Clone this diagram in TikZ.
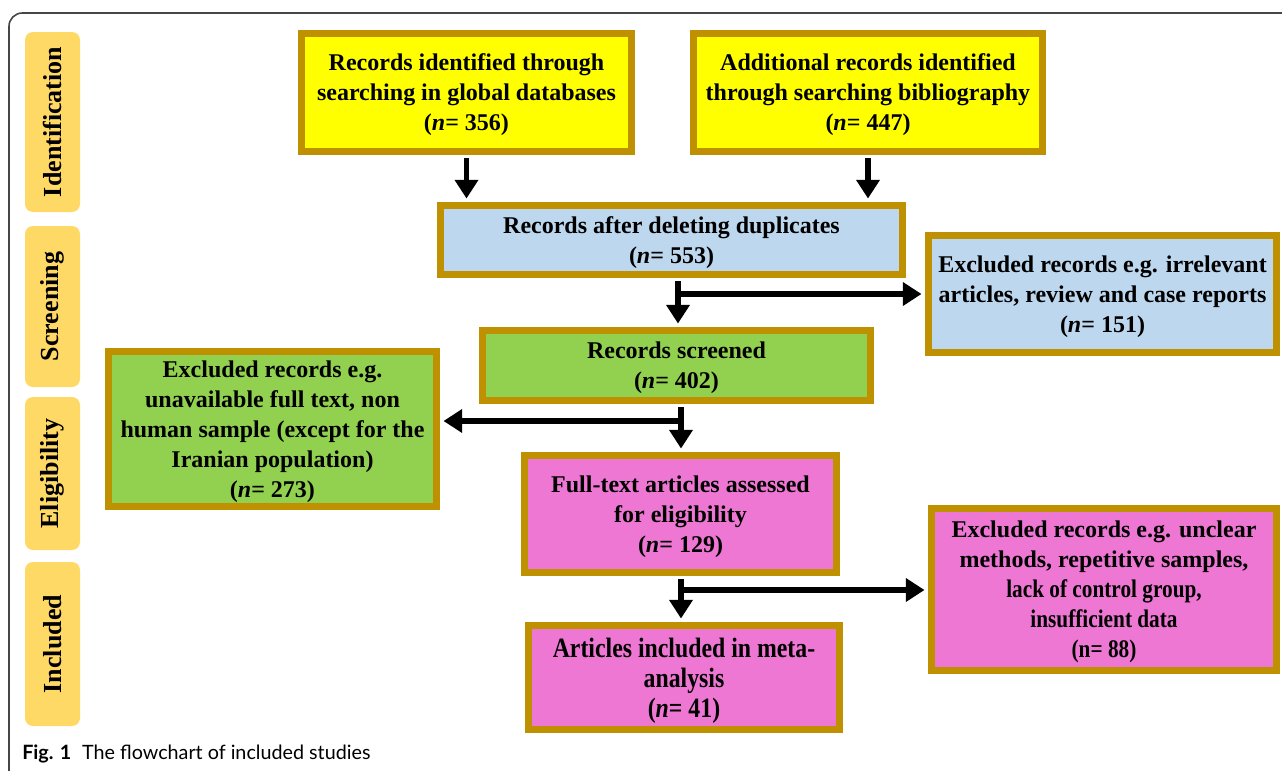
\documentclass[tikz,border=0pt]{standalone}
\usepackage{fontspec}
\setmainfont{Liberation Serif}
\newfontfamily\narrowfont[FakeStretch=0.84]{Liberation Serif}
\newfontfamily\metafont[FakeStretch=0.85]{Liberation Serif}
\newfontfamily\capfont{Lato}
\usepackage{tikz}
\usetikzlibrary{arrows.meta,calc}

\definecolor{boxborder}{RGB}{191,144,0}
\definecolor{yelfill}{RGB}{255,255,0}
\definecolor{bluefill}{RGB}{189,215,238}
\definecolor{greenfill}{RGB}{146,208,80}
\definecolor{pinkfill}{RGB}{238,119,212}
\definecolor{tabgold}{RGB}{255,217,102}
\definecolor{framegray}{RGB}{70,70,70}

\tikzset{
    flowbox/.style={draw=boxborder, line width=5.25pt, align=center, inner sep=2pt,
        font=\bfseries\fontsize{18}{22.5}\selectfont, text depth=-6pt},
    flowarrow/.style={line width=3.8pt, -{Triangle[length=14pt,width=17pt]},
        shorten <=2.6pt, shorten >=2.6pt},
    stagetab/.style={fill=tabgold, rounded corners=6pt, rotate=90, inner sep=0pt,
        minimum height=55*0.75pt, font=\bfseries\fontsize{19.5}{22}\selectfont}
}
\newcommand{\narrowline}[1]{{\narrowfont\bfseries\fontsize{19}{22.5}\selectfont #1}}

\begin{document}
\begin{tikzpicture}[x=0.75pt,y=-0.75pt]
    \useasboundingbox (0,0) rectangle (1282,771);

    % frame
    \draw[framegray, line width=1.2pt, rounded corners=10pt] (9,771) -- (9,13) -- (1282,13);

    % stage tabs
    \node[stagetab, minimum width=180*0.75pt] (tabid) at (52.5,122) {Identification};
    \node[stagetab, minimum width=161*0.75pt] (tabscr) at (52.5,306.5) {Screening};
    \node[stagetab, minimum width=153*0.75pt] (tabeli) at (52.5,473.5) {Eligibility};
    \node[stagetab, minimum width=164*0.75pt] (tabinc) at (52.5,644) {Included};

    % boxes
    \node[flowbox, fill=yelfill, minimum width=330*0.75pt, minimum height=118*0.75pt] (dbrec) at (466.5,92.5)
        {Records identified through\\searching in global databases\\(\textit{n}= 356)};
    \node[flowbox, fill=yelfill, minimum width=349*0.75pt, minimum height=118*0.75pt] (biblio) at (868,92.5)
        {Additional records identified\\through searching bibliography\\(\textit{n}= 447)};
    \node[flowbox, fill=bluefill, minimum width=462*0.75pt, minimum height=69*0.75pt] (dedup) at (671.5,240)
        {Records after deleting duplicates\\(\textit{n}= 553)};
    \node[flowbox, fill=bluefill, minimum width=348*0.75pt, minimum height=117*0.75pt] (exclscr) at (1102.5,294)
        {Excluded records e.g. irrelevant\\articles, review and case reports\\(\textit{n}= 151)};
    \node[flowbox, fill=greenfill, minimum width=388*0.75pt, minimum height=70*0.75pt] (screened) at (676.5,365.5)
        {Records screened\\(\textit{n}= 402)};
    \node[flowbox, fill=greenfill, minimum width=328*0.75pt, minimum height=155*0.75pt] (exclelig) at (272.5,429)
        {Excluded records e.g.\\unavailable full text, non\\human sample (except for the\\Iranian population)\\(\textit{n}= 273)};
    \node[flowbox, fill=pinkfill, minimum width=312*0.75pt, minimum height=117*0.75pt] (fulltext) at (680.5,514)
        {Full-text articles assessed\\for eligibility\\(\textit{n}= 129)};
    \node[flowbox, fill=pinkfill, minimum width=345*0.75pt, minimum height=162*0.75pt] (exclinc) at (1104,589.5)
        {Excluded records e.g. unclear\\methods, repetitive samples,\\\narrowline{lack of control group,}\\\narrowline{insufficient data}\\\narrowline{(n= 88)}};
    \node[flowbox, fill=pinkfill, minimum width=311*0.75pt, minimum height=104*0.75pt, text depth=-4pt,
        font=\metafont\bfseries\fontsize{21}{22.5}\selectfont] (meta) at (684,677.5)
        {Articles included in meta-\\analysis\\(\textit{n}= 41)};

    % branch points
    \coordinate (split1) at (678,294);
    \coordinate (split2) at (681,421);
    \coordinate (split3) at (681,590);

    % arrows
    \draw[flowarrow] (dbrec.south) -- (dbrec.south |- dedup.north);
    \draw[flowarrow] (biblio.south) -- (biblio.south |- dedup.north);
    \draw[flowarrow] (split1 |- dedup.south) -- (split1 |- screened.north);
    \draw[flowarrow, shorten <=0pt] (split1) -- (exclscr.west);
    \draw[flowarrow] (split2 |- screened.south) -- (split2 |- fulltext.north);
    \draw[flowarrow, shorten <=0pt] (split2) -- (split2 -| exclelig.east);
    \draw[flowarrow] (split3 |- fulltext.south) -- (split3 |- meta.north);
    \draw[flowarrow, shorten <=0pt] (split3) -- (split3 -| exclinc.west);

    % caption
    \node[anchor=base west, inner sep=0pt, font=\capfont\fontsize{14.8}{17}\selectfont] (caption) at (22,759)
        {\textbf{Fig. 1}\hspace{0.55em}The flowchart of included studies};
\end{tikzpicture}
\end{document}
